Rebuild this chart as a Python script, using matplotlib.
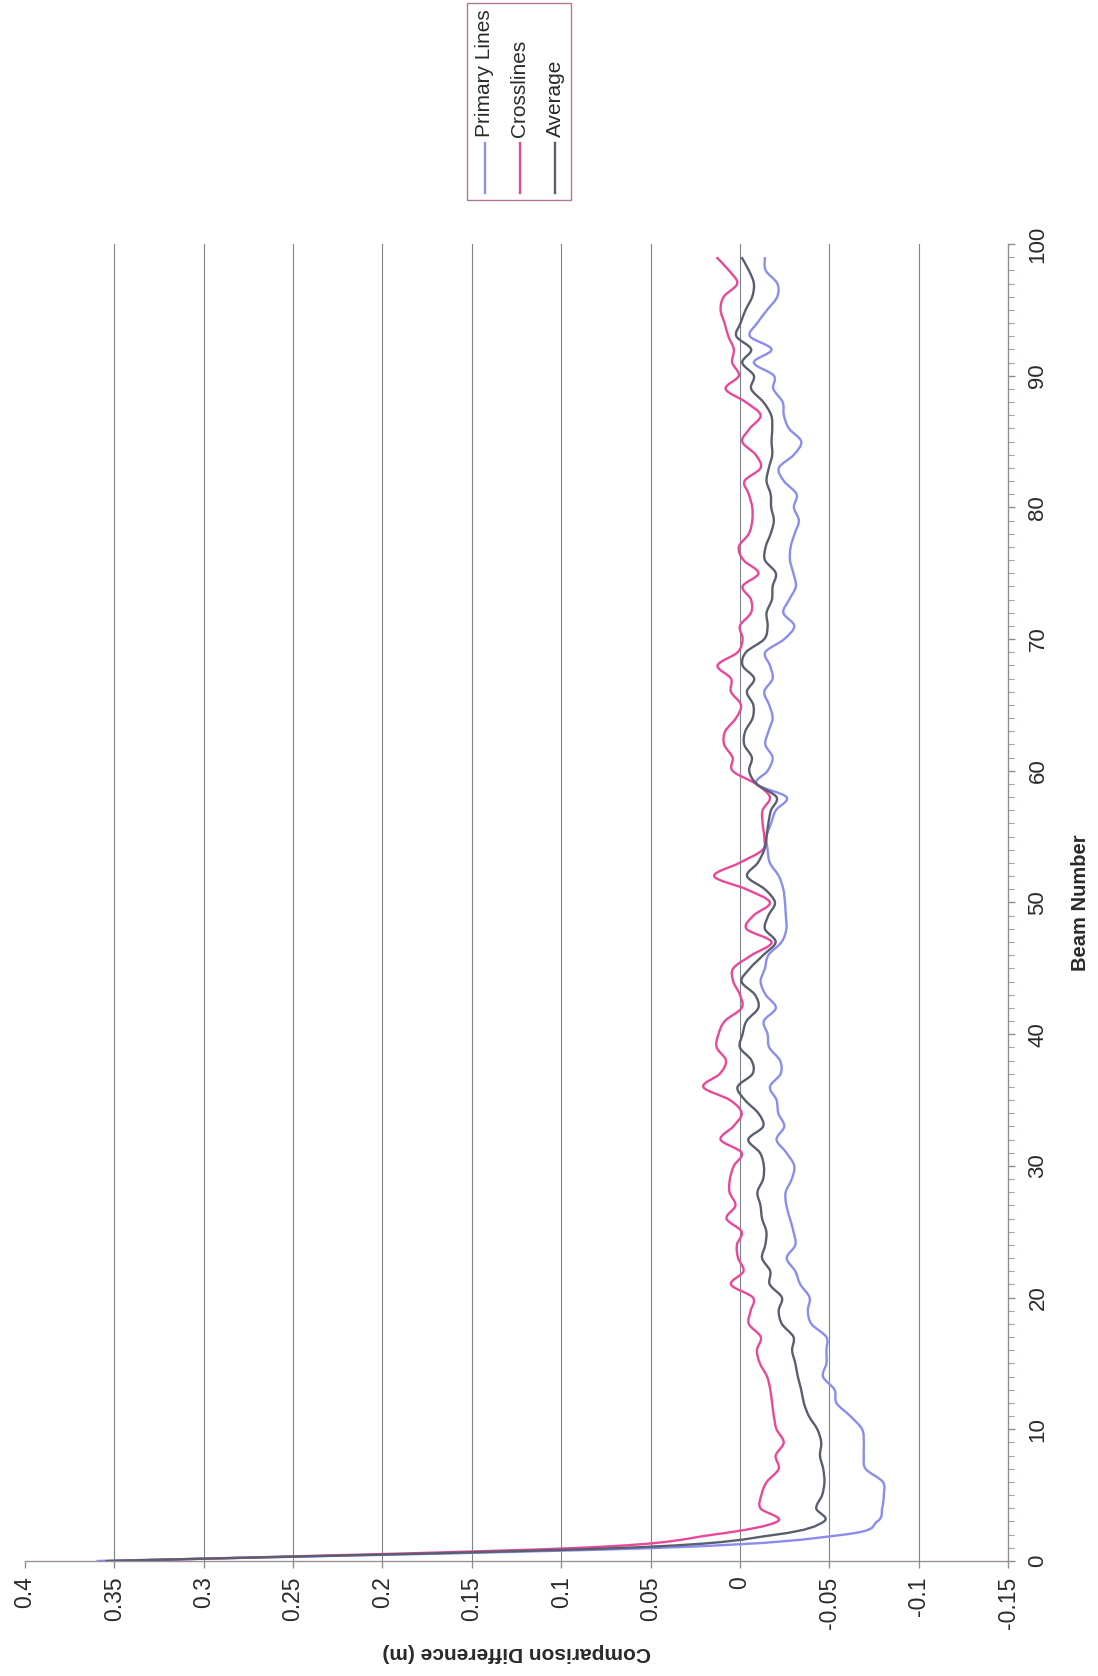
import matplotlib
matplotlib.use("Agg")
import matplotlib.pyplot as plt
from matplotlib.path import Path
from matplotlib.patches import PathPatch, Rectangle
from matplotlib.lines import Line2D
import numpy as np

plt.rcParams['font.family'] = ['Liberation Sans', 'DejaVu Sans']

# data, beam numbers 0..99
beam = list(range(100))

primary_lines = [
    0.36, 0.045, -0.058, -0.0768, -0.0796, -0.0805, -0.080, -0.0703, -0.0693, -0.0693,
    -0.0684, -0.0618, -0.054, -0.053, -0.0465, -0.0484, -0.0484, -0.0484, -0.040, -0.038,
    -0.039, -0.0338, -0.031, -0.0262, -0.031, -0.030, -0.028, -0.026, -0.0256, -0.029,
    -0.0304, -0.026, -0.0205, -0.0248, -0.0215, -0.0205, -0.0168, -0.0228, -0.0224, -0.0164,
    -0.0155, -0.0134, -0.0201, -0.0144, -0.0116, -0.014, -0.0159, -0.0233, -0.026, -0.0257,
    -0.0252, -0.0243, -0.0218, -0.0168, -0.0155, -0.0149, -0.0174, -0.0201, -0.0261, -0.0093,
    -0.0155, -0.0183, -0.0142, -0.016, -0.0183, -0.0164, -0.0136, -0.0183, -0.0168, -0.0142,
    -0.0248, -0.0304, -0.0243, -0.0276, -0.0313, -0.0299, -0.028, -0.0284, -0.0306, -0.033,
    -0.0302, -0.0317, -0.0246, -0.0218, -0.0302, -0.0343, -0.0274, -0.0246, -0.0239, -0.0187,
    -0.019, -0.0078, -0.0177, -0.0056, -0.0097, -0.0153, -0.0209, -0.0209, -0.0144, -0.014]

crosslines = [
    0.35, 0.09, 0.015, -0.021, -0.0115, -0.012, -0.015, -0.0217, -0.020, -0.0245,
    -0.0205, -0.019, -0.018, -0.017, -0.0152, -0.0112, -0.0095, -0.0117, -0.005, -0.006,
    -0.0073, 0.005, -0.002, 0.001, 0.0017, -0.001, 0.0075, 0.0025, 0.0058, 0.0056,
    0.0034, -0.001, 0.0108, 0.0037, -0.001, 0.0056, 0.0205, 0.0112, 0.0078, 0.013,
    0.012, 0.0084, -0.001, 0.0, 0.0037, 0.0037, -0.0065, -0.0177, -0.0037, -0.0075,
    -0.0168, -0.0037, 0.0144, 0.0004, -0.0127, -0.0136, -0.0127, -0.0127, -0.0168, -0.009,
    0.0041, 0.0041, 0.0088, 0.0082, 0.0022, -0.0006, 0.005, 0.005, 0.0125, 0.0013,
    -0.0015, 0.0, -0.0062, -0.0062, -0.0015, -0.0104, -0.002, 0.0006, -0.005, -0.0069,
    -0.0069, -0.005, -0.0026, -0.0116, -0.0088, -0.0013, -0.0056, -0.0116, -0.0032, 0.008,
    0.0006, 0.0043, 0.0034, 0.0065, 0.0086, 0.0108, 0.009, 0.0015, 0.0062, 0.0131]

average = [
    0.355, 0.065, -0.02, -0.047, -0.0427, -0.046, -0.0473, -0.0466, -0.0448, -0.0455,
    -0.0433, -0.0386, -0.0358, -0.0343, -0.0324, -0.031, -0.0292, -0.030, -0.0235, -0.0217,
    -0.0235, -0.0167, -0.017, -0.0124, -0.0142, -0.0148, -0.0124, -0.0115, -0.0098, -0.013,
    -0.0134, -0.0112, -0.0047, -0.013, -0.0103, -0.0028, 0.0013, -0.0071, -0.0065, 0.0,
    -0.0015, -0.0037, -0.0103, -0.0084, -0.0009, -0.0056, -0.013, -0.020, -0.014, -0.0159,
    -0.0196, -0.014, -0.004, -0.0099, -0.0136, -0.0149, -0.0159, -0.0174, -0.0205, -0.0093,
    -0.0052, -0.0067, -0.0024, -0.003, -0.0071, -0.0075, -0.0039, -0.008, -0.0015, -0.0034,
    -0.0136, -0.0155, -0.0149, -0.0179, -0.0183, -0.0201, -0.014, -0.0144, -0.0172, -0.019,
    -0.0175, -0.0172, -0.0149, -0.0162, -0.0181, -0.0177, -0.0181, -0.0175, -0.0131, -0.0063,
    -0.0078, -0.0013, -0.0063, 0.002, -0.0004, -0.0032, -0.0069, -0.0078, -0.005, -0.0009]

series_names = ["Primary Lines", "Crosslines", "Average"]
series_colors = ["#8a8cf0", "#e8489a", "#5a5f6e"]

diff_ticks = [0.4, 0.35, 0.3, 0.25, 0.2, 0.15, 0.1, 0.05, 0, -0.05, -0.1, -0.15]
diff_labels = ["0.4", "0.35", "0.3", "0.25", "0.2", "0.15", "0.1", "0.05", "0",
               "-0.05", "-0.1", "-0.15"]
beam_ticks = [0, 10, 20, 30, 40, 50, 60, 70, 80, 90, 100]


def smooth_path(xs, ys):
    # excel style smoothed line: catmull-rom segments as cubic beziers
    pts = np.column_stack([xs, ys]).astype(float)
    n = len(pts)
    verts = [pts[0]]
    codes = [Path.MOVETO]
    for i in range(n - 1):
        p0 = pts[i - 1] if i > 0 else pts[i]
        p1 = pts[i]
        p2 = pts[i + 1]
        p3 = pts[i + 2] if i + 2 < n else pts[i + 1]
        verts += [p1 + (p2 - p0) / 6.0, p2 - (p3 - p1) / 6.0, p2]
        codes += [Path.CURVE4] * 3
    return Path(verts, codes)


fig = plt.figure(figsize=(10.98, 16.76), dpi=100)
W, H = 1098.0, 1676.0
# chart is printed rotated: difference runs along x (reversed), beam along y
ax = fig.add_axes([25 / W, 1 - 1561 / H, (1008 - 25) / W, (1561 - 244) / H])

ax.set_xlim(0.4, -0.15)
ax.set_ylim(0, 100)

for vals, col in zip([primary_lines, crosslines, average], series_colors):
    ax.add_patch(PathPatch(smooth_path(vals, beam), facecolor='none',
                           edgecolor=col, lw=1.7, zorder=3))

ax.set_xticks(diff_ticks)
ax.set_xticklabels(diff_labels)
ax.set_yticks(beam_ticks)
ax.set_yticks(beam, minor=True)
ax.yaxis.tick_right()

ax.xaxis.grid(True, color='#7d838a', lw=0.8)
ax.get_xgridlines()[0].set_visible(False)
ax.get_xgridlines()[-1].set_visible(False)

for side in ['left', 'top']:
    ax.spines[side].set_visible(False)
ax.spines['bottom'].set_color('#9a9098')
ax.spines['right'].set_color('#8a8f96')
ax.spines['bottom'].set_linewidth(1.0)
ax.spines['right'].set_linewidth(1.0)

ax.tick_params(axis='x', direction='out', length=5, width=1, color='#8a8f96',
               labelrotation=90, labelsize=16.5, labelcolor='#2a2a2a', pad=6)
ax.tick_params(axis='y', which='major', direction='out', length=5, width=1,
               color='#8a8f96', labelrotation=90, labelsize=16,
               labelcolor='#2a2a2a', pad=9)
ax.tick_params(axis='y', which='minor', direction='out', length=4, width=0.8,
               color='#a0a4aa')
for lab in ax.get_yticklabels():
    lab.set_verticalalignment('center')

fig.text(1080 / W, 1 - 903 / H, "Beam Number", rotation=90, ha='center',
         va='center', fontsize=14.5, fontweight='bold', color='#2a2a2a')
fig.text(517 / W, 1 - 1652 / H, "Comparison Difference (m)", rotation=180,
         ha='center', va='center', fontsize=15, fontweight='bold', color='#2a2a2a')

# legend, drawn rotated like the rest of the page
fig.patches.append(Rectangle((467 / W, 1 - 200 / H), (571 - 467) / W, 197 / H,
                             transform=fig.transFigure, facecolor='white',
                             edgecolor='#b07898', lw=1.0))
for k, (name, col) in enumerate(zip(series_names, series_colors)):
    xc = (485 + 35 * k) / W
    fig.lines.append(Line2D([xc, xc], [1 - 193 / H, 1 - 143 / H],
                            transform=fig.transFigure, color=col, lw=1.7))
    fig.text(xc, 1 - 137 / H, name, rotation=90, ha='center', va='bottom',
             fontsize=15, color='#2a2a2a')

plt.savefig("out.png", dpi=100, facecolor='white')
